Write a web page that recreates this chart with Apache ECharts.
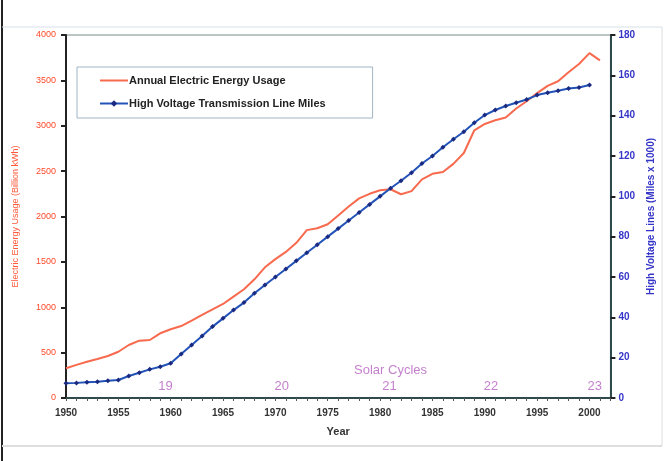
<!DOCTYPE html>
<html>
<head>
<meta charset="utf-8">
<script src="https://cdn.jsdelivr.net/npm/echarts@6/dist/echarts.min.js"></script>
<style>
  html, body { margin: 0; padding: 0; background: #fff; }
  #chart { width: 664px; height: 461px; }
</style>
</head>
<body>
<div id="chart"></div>
<script>
const energyYears = [1950, 1951, 1952, 1953, 1954, 1955, 1956, 1957, 1958, 1959,
    1960, 1961, 1962, 1963, 1964, 1965, 1966, 1967, 1968, 1969,
    1970, 1971, 1972, 1973, 1974, 1975, 1976, 1977, 1978, 1979,
    1980, 1981, 1982, 1983, 1984, 1985, 1986, 1987, 1988, 1989,
    1990, 1991, 1992, 1993, 1994, 1995, 1996, 1997, 1998, 1999,
    2000, 2001];
// billion kWh
const energyUsage = [327, 365, 400, 430, 463, 510, 584, 632, 639, 713,
    757, 793, 852, 915, 977, 1036, 1117, 1198, 1308, 1440,
    1530, 1610, 1710, 1850, 1870, 1915, 2010, 2110, 2200, 2250,
    2290, 2300, 2245, 2280, 2410, 2470, 2490, 2580, 2700, 2950,
    3020, 3060, 3090, 3190, 3270, 3360, 3440, 3490, 3590, 3680,
    3800, 3720];

const lineYears = energyYears.slice(0, 51);
// miles x 1000
const lineMiles = [7.3, 7.5, 7.8, 8.1, 8.5, 8.9, 10.9, 12.5, 14.2, 15.5,
    17.2, 21.8, 26.3, 30.7, 35.4, 39.5, 43.6, 47.3, 51.9, 56,
    60, 64, 68, 72, 76, 80, 84, 88, 92, 96,
    100, 104, 107.7, 111.7, 116.3, 120, 124.3, 128.3, 132, 136.5,
    140.3, 142.8, 144.8, 146.4, 148, 150.2, 151.4, 152.4, 153.5, 154,
    155.2];

const solarCycles = ['19', '20', '21', '22', '23'];
const solarCycleYears = [1959.5, 1970.6, 1980.9, 1990.6, 2000.5];

const chart = echarts.init(document.getElementById('chart'));

chart.setOption({
    backgroundColor: '#fff',
    animation: false,
    textStyle: { fontFamily: 'Liberation Sans, Arial, sans-serif' },
    graphic: [
        { type: 'line', shape: { x1: 2, y1: 0, x2: 2, y2: 461 }, style: { stroke: '#222', lineWidth: 2 } },
        { type: 'line', shape: { x1: 2, y1: 27, x2: 662, y2: 27 }, style: { stroke: '#d4e0e8', lineWidth: 1 } },
        { type: 'line', shape: { x1: 2, y1: 446, x2: 662, y2: 446 }, style: { stroke: '#dedede', lineWidth: 2 } },
        { type: 'line', shape: { x1: 662, y1: 27, x2: 662, y2: 446 }, style: { stroke: '#dedede', lineWidth: 1 } }
    ],
    grid: {
        left: 66, right: 48, top: 35, bottom: 63,
        show: true, borderColor: '#7a8a8a', borderWidth: 1
    },
    legend: {
        orient: 'vertical',
        left: 77, top: 67,
        padding: [8, 47, 9, 22],
        itemGap: 12,
        itemWidth: 28,
        itemHeight: 8,
        backgroundColor: '#fff',
        borderColor: '#9fb4c4',
        borderWidth: 1,
        data: [
            { name: 'Annual Electric Energy Usage', itemStyle: { opacity: 0 } },
            { name: 'High Voltage Transmission Line Miles' }
        ],
        textStyle: { color: '#222', fontSize: 11, fontWeight: 'bold', padding: [0, 0, 0, -4] }
    },
    xAxis: {
        type: 'value',
        min: 1950, max: 2002, interval: 1,
        name: 'Year',
        nameLocation: 'middle',
        nameGap: 28,
        nameTextStyle: { color: '#333', fontSize: 11, fontWeight: 'bold' },
        axisLine: { lineStyle: { color: '#2f4a4a', width: 2 } },
        axisTick: { show: true, length: 3, lineStyle: { color: '#555' } },
        axisLabel: {
            color: '#333', fontSize: 10, fontWeight: 'bold', margin: 10,
            formatter: v => (v % 5 === 0 && v <= 2000) ? String(v) : ''
        },
        splitLine: { show: false }
    },
    yAxis: [{
        type: 'value',
        min: 0, max: 4000, interval: 500,
        name: 'Electric Energy Usage (Billion kWh)',
        nameLocation: 'middle',
        nameGap: 46,
        nameTextStyle: { color: '#ff5a3a', fontSize: 9 },
        axisLine: { show: true, lineStyle: { color: '#222', width: 2 } },
        axisTick: { show: true, length: 5, lineStyle: { color: '#222', width: 2 } },
        axisLabel: { color: '#ff4a2a', fontSize: 9, margin: 10, formatter: v => String(v) },
        splitLine: { show: false }
    }, {
        type: 'value',
        min: 0, max: 180, interval: 20,
        name: 'High Voltage Lines (Miles x 1000)',
        nameLocation: 'middle',
        nameGap: 34,
        nameRotate: 90,
        nameTextStyle: { color: '#3535c8', fontSize: 10, fontWeight: 'bold' },
        axisLine: { show: true, lineStyle: { color: '#2f4a4a', width: 2 } },
        axisTick: { show: true, length: 5, lineStyle: { color: '#222', width: 2 } },
        axisLabel: { color: '#3535c8', fontSize: 10, fontWeight: 'bold', margin: 8 },
        splitLine: { show: false }
    }],
    series: [{
        name: 'Annual Electric Energy Usage',
        type: 'line',
        yAxisIndex: 0,
        symbol: 'none',
        smooth: false,
        lineStyle: { color: '#f86a4e', width: 2 },
        itemStyle: { color: '#f86a4e' },
        data: energyYears.map((y, i) => [y, energyUsage[i]])
    }, {
        name: 'High Voltage Transmission Line Miles',
        type: 'line',
        yAxisIndex: 1,
        symbol: 'diamond',
        symbolSize: 5,
        lineStyle: { color: '#2353b8', width: 2 },
        itemStyle: { color: '#1a2a80' },
        data: lineYears.map((y, i) => [y, lineMiles[i]])
    }, {
        name: 'Solar Cycles',
        type: 'scatter',
        yAxisIndex: 0,
        symbolSize: 0,
        silent: true,
        label: {
            show: true,
            position: 'inside',
            color: '#b560c0',
            fontSize: 13,
            formatter: p => p.data.label
        },
        data: solarCycles.map((c, i) => ({ value: [solarCycleYears[i], 132], label: c }))
            .concat([{ value: [1981, 308], label: 'Solar Cycles' }])
    }]
});
</script>
</body>
</html>
